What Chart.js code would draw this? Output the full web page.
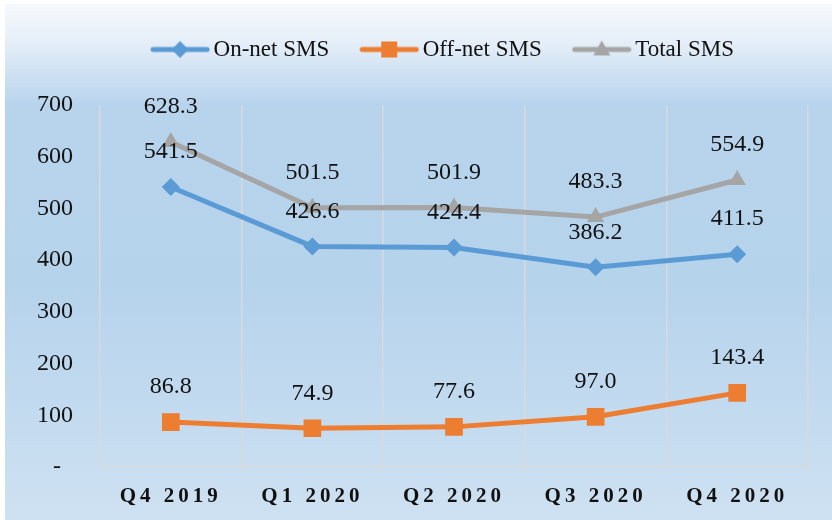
<!DOCTYPE html>
<html>
<head>
<meta charset="utf-8">
<script src="https://cdn.jsdelivr.net/npm/chart.js@4"></script>
<style>
html,body{margin:0;padding:0;background:#fff;}
#wrap{width:832px;height:520px;}
</style>
</head>
<body>
<div id="wrap"><canvas id="c" width="832" height="520"></canvas></div>
<script>
const categories = ['Q4 2019', 'Q1 2020', 'Q2 2020', 'Q3 2020', 'Q4 2020'];
const onNetSMS = [541.5, 426.6, 424.4, 386.2, 411.5];
const offNetSMS = [86.8, 74.9, 77.6, 97.0, 143.4];
const totalSMS = [628.3, 501.5, 501.9, 483.3, 554.9];
const seriesNames = ['On-net SMS', 'Off-net SMS', 'Total SMS'];
const yTicks = [0, 100, 200, 300, 400, 500, 600, 700];

const colors = ['#5b9bd5', '#ed7d31', '#a5a5a5'];
const styles = ['rectRot', 'rect', 'triangle'];
const radii = [9, 12.5, 10];

function legendIcon(i) {
  const cv = document.createElement('canvas');
  cv.width = 70; cv.height = 24;
  const g = cv.getContext('2d');
  g.strokeStyle = colors[i]; g.lineWidth = 5; g.lineCap = 'round';
  g.beginPath(); g.moveTo(10, 12); g.lineTo(64, 12); g.stroke();
  g.fillStyle = colors[i];
  const cx = 37, cy = 12;
  g.beginPath();
  if (i === 0) { g.moveTo(cx, cy - 8.5); g.lineTo(cx + 8.5, cy); g.lineTo(cx, cy + 8.5); g.lineTo(cx - 8.5, cy); }
  else if (i === 1) { g.rect(cx - 8, cy - 8, 16, 16); }
  else { g.moveTo(cx, cy - 9); g.lineTo(cx + 8.5, cy + 6); g.lineTo(cx - 8.5, cy + 6); }
  g.closePath(); g.fill();
  return cv;
}

const bgPlugin = {
  id: 'bg',
  beforeDraw(chart) {
    const { ctx, width, height } = chart;
    const gr = ctx.createLinearGradient(0, 0, 0, height);
    gr.addColorStop(0, '#f7fafd');
    gr.addColorStop(0.08, '#e6eff8');
    gr.addColorStop(0.2, '#b8d4ed');
    gr.addColorStop(0.55, '#b6d3ec');
    gr.addColorStop(1, '#cee1f2');
    ctx.save();
    ctx.fillStyle = '#ffffff';
    ctx.fillRect(0, 0, width, height);
    ctx.fillStyle = gr;
    ctx.fillRect(5, 4, width - 5, height - 4);
    ctx.restore();
  }
};

const labelPlugin = {
  id: 'vals',
  afterDatasetsDraw(chart) {
    const { ctx } = chart;
    ctx.save();
    ctx.font = '24px "Liberation Serif", serif';
    ctx.fillStyle = '#111';
    ctx.textAlign = 'center';
    ctx.textBaseline = 'middle';
    chart.data.datasets.forEach((ds, di) => {
      const meta = chart.getDatasetMeta(di);
      meta.data.forEach((pt, i) => {
        ctx.fillText(ds.data[i].toFixed(1), pt.x, pt.y - 35);
      });
    });
    ctx.restore();
  }
};

const layoutPlugin = {
  id: 'tweak',
  beforeLayout(chart) {
    const lg = chart.legend;
    if (lg && !lg._patched) {
      const orig = lg.fit;
      lg.fit = function () { orig.call(this); this.height += 34; };
      lg._patched = true;
    }
  },
  afterLayout(chart) {
    const lg = chart.legend;
    if (lg) { lg.left += 40; lg.right += 40; }
    const xs = chart.scales.x;
    if (xs && !xs._patched) {
      const orig = xs.drawLabels;
      xs.drawLabels = function (area) {
        const c = this.ctx;
        c.save();
        c.letterSpacing = '4px';
        orig.call(this, area);
        c.restore();
      };
      xs._patched = true;
    }
  }
};

new Chart(document.getElementById('c'), {
  type: 'line',
  data: {
    labels: categories,
    datasets: [onNetSMS, offNetSMS, totalSMS].map((d, i) => ({
      label: seriesNames[i],
      data: d,
      borderColor: colors[i],
      backgroundColor: colors[i],
      borderWidth: 5,
      pointStyle: styles[i],
      pointRadius: radii[i],
      pointBorderWidth: 0,
      pointBackgroundColor: colors[i],
      tension: 0,
      fill: false
    }))
  },
  options: {
    responsive: false,
    animation: false,
    devicePixelRatio: 1,
    layout: { padding: { left: 0, right: 24, top: 4, bottom: 12 } },
    plugins: {
      legend: {
        position: 'top',
        labels: {
          font: { family: '"Liberation Serif", serif', size: 23 },
          color: '#111',
          padding: 34,
          usePointStyle: true,
          pointStyleWidth: 48,
          generateLabels(chart) {
            return chart.data.datasets.map((ds, i) => ({
              text: ds.label,
              pointStyle: legendIcon(i),
              fillStyle: colors[i],
              strokeStyle: colors[i],
              lineWidth: 0,
              fontColor: '#111',
              datasetIndex: i
            }));
          }
        }
      },
      tooltip: { enabled: false }
    },
    scales: {
      x: {
        offset: true,
        afterFit(scale) { scale.height = 41; },
        grid: { offset: true, color: '#d9d9d9', lineWidth: 1.5, drawTicks: false },
        border: { color: '#d9d9d9', width: 1.5 },
        ticks: {
          padding: 17,
          color: '#111',
          font: { family: '"Liberation Serif", serif', size: 21, weight: 'bold' }
        }
      },
      y: {
        min: 0,
        max: 700,
        afterBuildTicks(scale) { scale.ticks = yTicks.map(v => ({ value: v })); },
        afterFit(scale) { scale.width = 100; },
        grid: { display: false, drawTicks: false },
        border: { display: false },
        ticks: {
          padding: 27,
          color: '#111',
          font: { family: '"Liberation Serif", serif', size: 24 },
          callback: v => v === 0 ? '-\u2002' : String(v)
        }
      }
    }
  },
  plugins: [bgPlugin, labelPlugin, layoutPlugin]
});
</script>
</body>
</html>
